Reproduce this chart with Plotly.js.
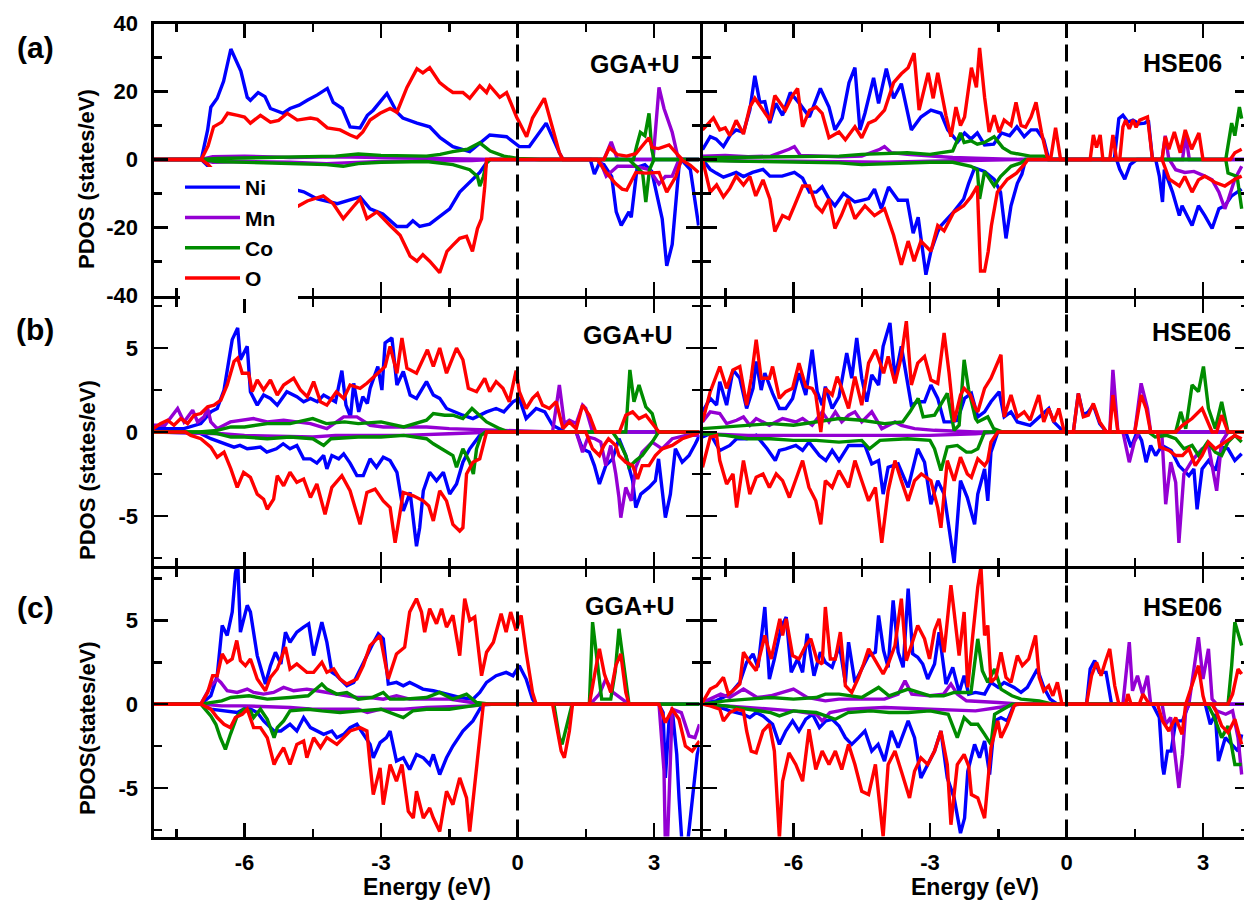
<!DOCTYPE html>
<html>
<head>
<meta charset="utf-8">
<script src="https://cdn.plot.ly/plotly-3.0.1.min.js"></script>
<style>
html,body{margin:0;padding:0;overflow:hidden;background:#fff;}
#plot{width:1260px;height:904px;}
</style>
</head>
<body>
<div id="plot"></div>
<script>
// ---------------- DATA (energy eV, PDOS states/eV) ----------------
const species = ['Ni', 'Mn', 'Co', 'O'];

// Panel (a) GGA+U
const aGGA_Ni_up = [[-8,0],[-6.95,0],[-6.81,8.7],[-6.74,15.4],[-6.6,18],[-6.46,23],[-6.3,32.5],[-6.15,28],[-6.08,26],[-5.94,18.3],[-5.87,17.4],[-5.7,19.7],[-5.55,18.5],[-5.43,15],[-5.15,13.6],[-5.0,15],[-4.8,16],[-4.62,17.4],[-4.4,19],[-4.18,20.9],[-4.05,16.8],[-3.85,15],[-3.68,9.6],[-3.46,9.3],[-3.3,13],[-3.17,14.5],[-2.87,19.4],[-2.65,13.9],[-2.52,12.2],[-2.21,10.7],[-1.93,9.6],[-1.7,6.4],[-1.42,3.8],[-1.05,2.3],[-0.61,7.2],[-0.24,6.7],[0.04,3.8],[0.26,3.8],[0.63,10.7],[0.92,2],[1.0,0],[4,0]];
const aGGA_Ni_dn = [[-8,0],[-6.95,0],[-6.8,-2],[-6.5,-5],[-6.0,-7.5],[-5.5,-8],[-4.93,-8.7],[-4.7,-9.5],[-4.4,-11.6],[-3.96,-13],[-3.7,-12],[-3.46,-11],[-3.24,-14.5],[-2.96,-16],[-2.65,-19.7],[-2.43,-19.7],[-2.3,-18],[-2.15,-19.7],[-1.93,-19],[-1.77,-17.4],[-1.49,-14.5],[-1.27,-9.6],[-1.05,-6.7],[-0.83,-3.8],[-0.68,-0.9],[-0.6,0],[1.6,0],[1.69,-4.3],[1.8,-1],[1.9,-1.5],[2.07,-5],[2.17,-15.4],[2.28,-19.4],[2.45,-15.4],[2.5,-17],[2.63,-2.3],[2.8,-1.5],[2.95,-3.5],[3.18,-17.4],[3.28,-31.3],[3.4,-25],[3.55,-2],[3.6,0],[3.8,-3],[3.98,-19.4]];
const aGGA_Mn_up = [[-8,0],[-6.95,0],[-6.7,0.8],[-6,1],[-5,0.6],[-4,0.8],[-3,0.6],[-2,0.4],[-1,0.2],[-0.5,0],[1.9,0],[2.06,5.2],[2.2,0],[2.98,0],[3.11,21.2],[3.22,15],[3.4,8],[3.52,1],[3.58,0],[4,0]];
const aGGA_Mn_dn = [[-8,0],[-6.95,0],[-6.7,-0.8],[-6,-0.6],[-5,-0.8],[-4.2,-1.2],[-3.8,-1.0],[-3,-0.6],[-2,-0.4],[-1,-0.3],[-0.6,0],[1.8,0],[1.95,-4.9],[2.2,-2],[2.6,-2],[2.9,-3],[3.11,-7.2],[3.25,-5],[3.4,-4.9],[3.55,0],[4,0]];
const aGGA_Co_up = [[-8,0],[-6.95,0],[-6.6,0.3],[-6,0.5],[-5,0.8],[-4,1],[-3.5,1.6],[-3,1.2],[-2,1],[-1.7,1.5],[-1.42,2.3],[-1.1,3],[-0.83,4.9],[-0.6,2.5],[-0.3,1],[0,0.3],[0.5,0],[2.55,0],[2.62,4],[2.7,8],[2.8,7],[2.89,13.6],[2.95,3],[3.0,0],[4,0]];
const aGGA_Co_dn = [[-8,0],[-6.95,0],[-6.6,-0.6],[-6,-0.8],[-5,-1.2],[-4.2,-1.5],[-3.83,-2],[-3.5,-1.2],[-3,-0.8],[-2,-0.6],[-1.42,-1.5],[-1.05,-3],[-0.88,-5],[-0.83,-7.8],[-0.75,-5],[-0.68,-1],[-0.6,0],[2.45,0],[2.6,-2],[2.75,-4],[2.82,-12.5],[2.9,-3],[3.0,0],[4,0]];
const aGGA_O_up = [[-8,0],[-6.95,0],[-6.8,4],[-6.68,9.6],[-6.5,11],[-6.37,13.6],[-6.15,13],[-6.0,12.5],[-5.87,10.7],[-5.65,13],[-5.43,11],[-5.25,11.5],[-5.06,13.6],[-4.84,11.6],[-4.55,12.2],[-4.4,11.8],[-4.18,9.3],[-3.9,8.7],[-3.68,7.2],[-3.53,6.4],[-3.4,8.1],[-3.24,11.6],[-3.02,13.6],[-2.8,15],[-2.65,13.9],[-2.43,21.2],[-2.21,26.7],[-2.08,25.5],[-1.93,27],[-1.71,22.6],[-1.55,20.9],[-1.42,19.7],[-1.2,19.7],[-1.05,18],[-0.83,21.7],[-0.68,19.7],[-0.61,21.7],[-0.39,18.3],[-0.24,19.7],[-0.02,12.5],[0.2,6.7],[0.33,12.2],[0.59,18],[0.77,9.6],[0.92,2],[1.0,0],[1.9,0],[2.02,3.5],[2.2,1.4],[2.4,1.0],[2.6,1.7],[2.89,6.4],[2.96,3.5],[3.1,3.2],[3.33,4.3],[3.5,1.7],[3.62,0]];
const aGGA_O_dn = [[-8,0],[-6.95,0],[-6.8,-1.5],[-6.5,-6],[-6,-10],[-5.5,-12],[-4.93,-14.5],[-4.62,-12.2],[-4.27,-10.7],[-4.05,-13],[-3.83,-17.4],[-3.61,-13.9],[-3.46,-11.6],[-3.31,-17.4],[-3.09,-15.4],[-2.8,-19.4],[-2.58,-22.3],[-2.36,-28.4],[-2.21,-29.9],[-2.08,-28],[-1.93,-29.9],[-1.71,-33.3],[-1.55,-27],[-1.42,-25.2],[-1.27,-23.2],[-1.12,-22.6],[-0.99,-27],[-0.88,-20.3],[-0.79,-17.4],[-0.72,-8],[-0.68,0],[1.75,0],[1.95,-3.8],[2.15,-7],[2.3,-8.7],[2.4,-9],[2.6,-3.8],[2.82,-4],[3.11,-3.8],[3.28,-9.6],[3.48,-5],[3.6,0],[3.8,-1.7],[3.98,-3.8]];

// Panel (a) HSE06
const aHSE_Ni_up = [[-8,2.9],[-7.83,6.7],[-7.7,6],[-7.54,3.8],[-7.39,7.2],[-7.26,8.7],[-7.1,8],[-6.96,14.5],[-6.85,24.6],[-6.74,16.8],[-6.63,17],[-6.52,10.7],[-6.39,16.5],[-6.24,13],[-6.07,19.7],[-5.87,16.5],[-5.65,12.5],[-5.41,20.9],[-5.22,15.4],[-5.09,8.7],[-4.93,12.2],[-4.78,22.6],[-4.65,27],[-4.54,8.7],[-4.43,13.6],[-4.24,24],[-4.13,16.5],[-3.96,26.7],[-3.8,18],[-3.63,22.3],[-3.41,8.7],[-3.2,12.5],[-2.98,14.5],[-2.76,13.6],[-2.61,8.7],[-2.39,5.2],[-2.24,7.8],[-2.1,6],[-1.96,7.8],[-1.8,4.3],[-1.6,4.5],[-1.43,7.8],[-1.25,7],[-1.09,9.6],[-0.93,6.7],[-0.78,8.7],[-0.65,8.7],[-0.5,5.8],[-0.39,0],[1.05,0],[1.15,12],[1.24,13],[1.35,11],[1.46,11.6],[1.6,10.5],[1.72,10.7],[1.8,11.5],[1.89,0],[4,0]];
const aHSE_Ni_dn = [[-8,0],[-7.83,-2.9],[-7.7,-4],[-7.54,-5.2],[-7.4,-4.5],[-7.26,-3.8],[-7.1,-5],[-6.9,-3.8],[-6.67,-2.9],[-6.52,-4.9],[-6.25,-4.9],[-5.98,-3.8],[-5.8,-5.5],[-5.65,-9.6],[-5.5,-9.6],[-5.37,-8],[-5.22,-11.6],[-5.09,-13.6],[-4.9,-10],[-4.65,-12.5],[-4.5,-12],[-4.35,-11.5],[-4.22,-8.7],[-4.07,-14.5],[-3.91,-8.1],[-3.7,-12],[-3.5,-12],[-3.37,-21.7],[-3.26,-17],[-3.15,-27],[-3.09,-33.9],[-2.98,-27],[-2.83,-21.2],[-2.76,-19.5],[-2.62,-17.4],[-2.48,-15.4],[-2.26,-11.6],[-2.15,-7],[-2.02,-2.5],[-1.8,-3.5],[-1.59,-5.8],[-1.45,-9.6],[-1.33,-23.2],[-1.22,-13.6],[-1.08,-7],[-0.98,-4.3],[-0.9,0],[1.1,0],[1.17,-2.9],[1.28,-5.8],[1.4,-1.5],[1.55,0],[1.96,0],[2.04,-4.9],[2.11,-12.5],[2.15,-3],[2.33,-9.6],[2.48,-16.5],[2.54,-13.6],[2.76,-19.4],[2.9,-13.6],[3.04,-16.5],[3.2,-20.3],[3.35,-14.5],[3.48,-13.6],[3.63,-10.7],[3.85,-8.7]];
const aHSE_Mn_up = [[-8,1],[-7.5,1.2],[-7,0.8],[-6.5,1],[-6.1,3],[-5.98,3.8],[-5.85,1.2],[-5.5,1],[-5,0.8],[-4.5,1],[-4.1,3],[-4.0,3.8],[-3.85,2],[-3.5,1.5],[-3,1],[-2.5,0.6],[-2,0.4],[-1.5,0.2],[-1,0],[2.1,0],[2.17,7],[2.25,0],[2.55,0],[2.62,7.2],[2.7,0],[4,0]];
const aHSE_Mn_dn = [[-8,0],[-7,-0.5],[-6,-0.5],[-5,-0.6],[-4,-0.8],[-3,-0.5],[-2,-0.3],[-1,0],[2.26,0],[2.4,-3],[2.6,-3.8],[2.8,-3.5],[3.04,-4.9],[3.2,-6],[3.35,-9.6],[3.48,-14.5],[3.55,-12],[3.7,-5.8],[3.85,-2]];
const aHSE_Co_up = [[-8,0.5],[-7,0.6],[-6,0.8],[-5,1],[-4.5,1.5],[-4,1.8],[-3.5,2],[-3,1.5],[-2.5,2.5],[-2.33,7.8],[-2.25,5],[-2.1,5.5],[-1.96,4.5],[-1.8,5],[-1.59,6.7],[-1.4,3.5],[-1.22,2],[-0.8,1],[-0.5,1],[-0.4,0],[3.5,0],[3.63,10.7],[3.7,7],[3.8,15.4],[3.85,12]];
const aHSE_Co_dn = [[-8,-0.3],[-7,-0.5],[-6,-0.6],[-5,-1],[-4.5,-1.5],[-4,-1.2],[-3.5,-1],[-3,-0.8],[-2.5,-0.8],[-2.1,-2],[-1.96,-3],[-1.91,-11.6],[-1.8,-3.5],[-1.59,-7.8],[-1.45,-5],[-1.22,-2],[-1.0,-1],[-0.9,0],[3.5,0],[3.55,-4],[3.75,-5],[3.85,-14.5]];
const aHSE_O_up = [[-8,8.7],[-7.76,12.2],[-7.62,8.7],[-7.5,9.3],[-7.4,7],[-7.26,11.5],[-7.1,7.5],[-6.96,15.4],[-6.85,18],[-6.71,15.4],[-6.62,13.6],[-6.52,11.6],[-6.41,18.8],[-6.28,16.5],[-6.18,14.5],[-6.02,18.8],[-5.91,20.9],[-5.8,9.6],[-5.65,14.5],[-5.5,15.4],[-5.37,13.6],[-5.22,6.4],[-5.0,8.1],[-4.86,5.8],[-4.65,9.6],[-4.5,6.4],[-4.35,10.7],[-4.2,11.6],[-4.0,14.5],[-3.8,22.6],[-3.63,25.2],[-3.48,27],[-3.35,31.3],[-3.24,14.5],[-3.04,25.5],[-2.93,18],[-2.83,25.5],[-2.65,13],[-2.54,6.7],[-2.43,15.4],[-2.33,10],[-2.24,12.5],[-2.09,27],[-1.98,21.2],[-1.91,32.8],[-1.8,18.3],[-1.7,8.1],[-1.59,13],[-1.48,8],[-1.37,11.6],[-1.22,10],[-1.11,16.8],[-1.0,10],[-0.9,9.5],[-0.78,12.5],[-0.67,16.8],[-0.55,8],[-0.43,1],[-0.35,0],[-0.24,9.3],[-0.13,0],[0.52,0],[0.59,7.2],[0.66,3.5],[0.74,7.2],[0.8,0],[0.95,0],[1.02,7.2],[1.1,0],[1.17,0],[1.24,9.6],[1.3,11.6],[1.38,9],[1.46,11.6],[1.53,9.5],[1.61,11.6],[1.78,12.5],[1.89,0],[2.1,0],[2.17,6.7],[2.25,3],[2.37,8.1],[2.5,2],[2.61,8.7],[2.75,3],[2.91,7.8],[3.0,0],[3.6,0],[3.7,2],[3.85,3]];
const aHSE_O_dn = [[-8,0],[-7.83,-9.6],[-7.69,-7.5],[-7.54,-11],[-7.4,-8.5],[-7.26,-4.9],[-7.1,-7.5],[-6.96,-5],[-6.83,-10.7],[-6.67,-6],[-6.52,-11.6],[-6.41,-21.2],[-6.24,-16.5],[-6.1,-17.4],[-5.98,-13.6],[-5.8,-7.8],[-5.65,-7.8],[-5.5,-13.6],[-5.37,-15.4],[-5.22,-11.6],[-5.09,-20.3],[-4.95,-16.5],[-4.8,-11.6],[-4.65,-17.4],[-4.43,-13.6],[-4.22,-16.5],[-4.0,-14.5],[-3.8,-22.3],[-3.63,-31],[-3.48,-24],[-3.35,-29.9],[-3.2,-24],[-2.98,-27],[-2.83,-19.4],[-2.69,-21],[-2.48,-15.5],[-2.26,-13.6],[-2.1,-11],[-1.96,-7.8],[-1.89,-32.8],[-1.8,-32.8],[-1.72,-27],[-1.65,-19.4],[-1.52,-9.6],[-1.3,-5.8],[-1.1,-4],[-0.9,-1],[-0.85,0],[2.1,0],[2.26,-5.8],[2.48,-7.8],[2.6,-5],[2.76,-9.6],[2.9,-6],[3.04,-4.9],[3.26,-6.7],[3.48,-7.8],[3.7,-5.8],[3.85,-4.9]];

// Panel (b) GGA+U
const bGGA_Ni_up = [[-8,0.2],[-7.33,0.2],[-6.96,0.5],[-6.74,1.2],[-6.6,1.4],[-6.45,2.5],[-6.27,5.5],[-6.15,6.2],[-6.09,4.3],[-5.94,5.1],[-5.87,2.4],[-5.72,1.6],[-5.58,2.2],[-5.43,2],[-5.28,1.6],[-5.07,2.4],[-4.85,2.1],[-4.7,1.8],[-4.55,2.0],[-4.4,1.8],[-4.26,2.2],[-4.0,1.8],[-3.86,3.65],[-3.77,1.6],[-3.67,0.9],[-3.6,2.9],[-3.49,1.2],[-3.4,2.1],[-3.3,1.7],[-3.24,2.6],[-3.07,3.9],[-2.98,2.5],[-2.91,5.3],[-2.76,5.6],[-2.65,2.8],[-2.51,3.6],[-2.36,2.2],[-2.22,2],[-2.0,3.0],[-1.85,2.2],[-1.71,2.0],[-1.56,1.4],[-1.2,1.0],[-0.98,0.8],[-0.68,1.2],[-0.47,1.4],[-0.3,1.2],[-0.1,1.8],[0.04,2.0],[0.19,0.8],[0.41,1.4],[0.6,1.2],[0.77,0.4],[0.92,0.2],[1.05,0],[4,0]];
const bGGA_Ni_dn = [[-8,0],[-7,-0.05],[-6.74,-0.4],[-6.52,-0.6],[-6.23,-0.9],[-6.1,-0.8],[-5.94,-1.0],[-5.65,-0.9],[-5.51,-1.2],[-5.3,-1.0],[-5.15,-0.7],[-5.0,-1.0],[-4.85,-0.8],[-4.7,-1.6],[-4.55,-1.6],[-4.41,-1.85],[-4.26,-1.4],[-4.19,-2.2],[-4.08,-1.4],[-3.93,-1.6],[-3.82,-1.3],[-3.68,-1.85],[-3.53,-2.6],[-3.39,-2.6],[-3.24,-1.6],[-3.1,-2.1],[-2.95,-1.5],[-2.8,-1.7],[-2.65,-2.4],[-2.51,-4.7],[-2.36,-3.6],[-2.22,-6.8],[-2.15,-5.7],[-2.07,-3.5],[-1.93,-2.4],[-1.78,-2.9],[-1.63,-2.4],[-1.49,-3.7],[-1.34,-3.1],[-1.2,-1.8],[-1.05,-1.0],[-0.83,-0.2],[-0.7,0],[1.29,0],[1.43,-1.0],[1.58,-1.2],[1.69,-2.0],[1.8,-3.1],[1.94,-2.0],[2.09,-1.6],[2.23,-0.4],[2.38,-1.4],[2.53,-2.9],[2.6,-4.5],[2.71,-3.7],[2.89,-3.3],[3.03,-2.9],[3.1,-1.6],[3.25,-5.1],[3.36,-3.7],[3.47,-1.0],[3.62,-1.8],[3.77,-1.4],[3.91,-0.7],[4,-0.2]];
const bGGA_Mn_up = [[-8,0.4],[-7.75,0.4],[-7.47,1.4],[-7.33,0.6],[-7.14,1.3],[-7.03,0.6],[-6.89,0.9],[-6.81,1.4],[-6.74,0.6],[-6.6,0.2],[-6.31,0.6],[-6.1,0.7],[-5.8,0.8],[-5.5,0.6],[-5.14,0.7],[-4.85,0.6],[-4.55,0.5],[-4.19,0.2],[-3.82,0.9],[-3.53,0.9],[-3.24,0.4],[-2.95,0.3],[-2.51,0.3],[-2.0,0.3],[-1.5,0.2],[-0.5,0.1],[0.3,0],[0.77,0],[0.92,2.8],[1.03,0.5],[1.14,0.7],[1.29,0.5],[1.43,1.6],[1.5,1.4],[1.65,0],[4,0]];
const bGGA_Mn_dn = [[-8,0],[-7,-0.05],[-6.5,-0.1],[-6,-0.2],[-5,-0.3],[-4.5,-0.3],[-4,-0.2],[-3.5,-0.2],[-2.5,-0.2],[-1.5,-0.1],[-0.5,0],[1.29,0],[1.43,-1.2],[1.55,-0.3],[1.7,-0.4],[1.83,-0.6],[1.94,-2.0],[2.05,-0.8],[2.16,-2.5],[2.23,-3.9],[2.27,-5.1],[2.38,-3.3],[2.5,-4.1],[2.6,-2.1],[2.74,-1.2],[2.96,-0.6],[3.18,-1.0],[3.4,-0.4],[3.7,-0.2],[4,-0.2]];
const bGGA_Co_up = [[-8,0],[-7,0],[-6.6,0.1],[-6.3,0.3],[-6,0.3],[-5.5,0.5],[-5,0.5],[-4.5,0.8],[-4.2,0.5],[-3.8,0.6],[-3.5,0.5],[-3.0,0.6],[-2.5,0.3],[-2.15,0.6],[-2.0,0.7],[-1.85,1.1],[-1.6,1.0],[-1.42,1.0],[-1.2,0.8],[-1.0,1.4],[-0.83,1.0],[-0.68,0.6],[-0.39,0.2],[-0.2,0],[2.38,0],[2.47,3.7],[2.56,1.8],[2.67,2.8],[2.82,1.5],[2.96,1.1],[3.07,0],[4,0]];
const bGGA_Co_dn = [[-8,0],[-7,0],[-6.6,-0.1],[-6.3,-0.3],[-6,-0.3],[-5.5,-0.4],[-5,-0.3],[-4.5,-0.4],[-4.26,-0.8],[-4.1,-0.4],[-3.5,-0.3],[-3.0,-0.3],[-2.5,-0.2],[-2.0,-0.4],[-1.85,-0.7],[-1.56,-1.2],[-1.42,-1.4],[-1.34,-2.1],[-1.2,-1.0],[-1.05,-1.8],[-0.97,-2.5],[-0.9,-1.0],[-0.8,-0.2],[-0.7,0],[2.09,0],[2.24,-0.6],[2.38,-1.4],[2.45,-2.1],[2.6,-1.7],[2.74,-1.4],[2.96,-0.6],[3.1,0],[4,0]];
const bGGA_O_up = [[-8,0.2],[-7.85,0.5],[-7.69,0.7],[-7.55,0.4],[-7.4,0.8],[-7.25,0.5],[-7.11,1.0],[-6.96,1.1],[-6.81,1.5],[-6.67,1.6],[-6.52,1.9],[-6.38,2.8],[-6.23,4.2],[-6.15,4.4],[-6.05,3.5],[-5.91,3.5],[-5.83,2.4],[-5.72,3.1],[-5.58,2.5],[-5.43,3.1],[-5.28,2.2],[-5.14,2.8],[-4.92,3.2],[-4.77,2.5],[-4.62,2.1],[-4.48,3.0],[-4.33,1.8],[-4.19,1.6],[-3.98,2.4],[-3.82,2.0],[-3.68,2.8],[-3.46,2.6],[-3.31,2.9],[-3.1,3.4],[-2.91,3.9],[-2.8,5.1],[-2.65,3.5],[-2.54,5.6],[-2.43,3.8],[-2.22,3.5],[-2.04,4.5],[-1.98,4.9],[-1.85,3.9],[-1.71,5.0],[-1.56,3.5],[-1.34,5.0],[-1.2,4.3],[-1.08,2.6],[-0.9,2.4],[-0.72,3.2],[-0.61,2.4],[-0.47,3.0],[-0.32,2.6],[-0.18,1.8],[-0.03,3.65],[0.04,2.4],[0.19,1.4],[0.33,2.0],[0.44,2.3],[0.55,1.6],[0.7,1.4],[0.85,1.8],[1.0,0.2],[1.14,0.6],[1.29,0.2],[1.43,1.6],[1.58,1.0],[1.72,0],[2.24,0],[2.38,1.0],[2.53,1.2],[2.67,0.8],[2.82,1.0],[2.96,0.5],[3.11,0],[4,0]];
const bGGA_O_dn = [[-8,0],[-7.3,0],[-7.18,-0.2],[-6.96,-0.4],[-6.74,-0.9],[-6.6,-1.5],[-6.45,-1.2],[-6.3,-2.2],[-6.16,-3.3],[-6.02,-2.4],[-5.87,-2.7],[-5.72,-3.7],[-5.58,-4.0],[-5.5,-4.6],[-5.36,-4.0],[-5.28,-2.6],[-5.14,-3.2],[-5.0,-2.4],[-4.85,-3.0],[-4.7,-2.8],[-4.55,-3.9],[-4.41,-3.1],[-4.23,-4.9],[-4.08,-3.3],[-3.86,-2.6],[-3.68,-3.5],[-3.46,-5.5],[-3.31,-3.6],[-3.13,-3.4],[-2.95,-4.1],[-2.8,-4.5],[-2.69,-6.6],[-2.51,-3.6],[-2.29,-3.8],[-2.07,-4.1],[-1.95,-4.4],[-1.85,-5.3],[-1.71,-3.5],[-1.56,-4.1],[-1.42,-5.5],[-1.27,-5.9],[-1.2,-5.7],[-1.12,-2.5],[-0.98,-1.8],[-0.83,-1.6],[-0.68,0],[1.5,0],[1.65,-1.0],[1.8,-1.4],[1.9,-0.8],[2.0,-0.4],[2.16,-0.8],[2.23,-1.4],[2.38,-1.8],[2.53,-2.0],[2.64,-2.8],[2.74,-2.0],[2.89,-2.0],[3.03,-1.4],[3.18,-1.0],[3.4,-0.8],[3.62,-0.4],[3.84,-0.2],[4,0]];

// Panel (b) HSE06
const bHSE_Ni_up = [[-8,1.2],[-7.83,2.0],[-7.69,1.6],[-7.62,3.0],[-7.47,1.6],[-7.33,3.7],[-7.18,3.2],[-7.03,1.4],[-6.89,2.6],[-6.82,4.2],[-6.71,2.5],[-6.63,3.5],[-6.46,2.3],[-6.31,1.4],[-6.17,1.4],[-6.02,2.0],[-5.88,3.5],[-5.73,2.2],[-5.59,4.9],[-5.48,2.4],[-5.37,1.6],[-5.3,2.7],[-5.15,1.4],[-5.0,2.1],[-4.83,4.7],[-4.72,3.2],[-4.61,5.6],[-4.5,3.2],[-4.39,1.8],[-4.28,3.4],[-4.13,2.8],[-4.03,5.1],[-3.88,6.5],[-3.77,3.2],[-3.63,5.1],[-3.52,3.2],[-3.41,1.6],[-3.27,1.8],[-3.12,1.8],[-2.98,2.8],[-2.83,2.0],[-2.69,0.6],[-2.54,0.6],[-2.4,0.7],[-2.24,2.0],[-2.09,2.3],[-1.95,0.9],[-1.8,1.2],[-1.66,1.8],[-1.48,2.4],[-1.37,0.9],[-1.22,1.2],[-1.08,0.6],[-0.8,0.4],[-0.39,1.4],[-0.28,0.6],[-0.13,0.2],[0,0],[0.15,0],[0.26,2.3],[0.37,1.0],[0.48,1.2],[0.59,1.6],[0.73,0.5],[0.88,0],[4,0]];
const bHSE_Ni_dn = [[-8,-0.3],[-7.83,-0.1],[-7.62,-1.1],[-7.4,-0.8],[-7.25,-0.4],[-7.03,-0.4],[-6.82,-0.2],[-6.58,-1.0],[-6.4,-1.7],[-6.31,-1.1],[-6.17,-1.0],[-5.95,-0.8],[-5.8,-1.1],[-5.66,-0.6],[-5.43,-1.4],[-5.29,-1.7],[-5.15,-1.1],[-5.0,-1.7],[-4.79,-0.8],[-4.65,-0.8],[-4.43,-0.8],[-4.28,-1.9],[-4.13,-1.7],[-4.03,-3.7],[-3.92,-2.1],[-3.7,-1.9],[-3.48,-3.3],[-3.27,-1.0],[-3.12,-1.8],[-2.98,-4.3],[-2.83,-2.9],[-2.69,-3.7],[-2.47,-7.8],[-2.33,-2.9],[-2.18,-3.9],[-2.02,-5.5],[-1.95,-3.7],[-1.8,-2.2],[-1.73,-4.1],[-1.66,-1.2],[-1.51,0],[1.3,0],[1.42,-0.9],[1.55,0],[1.65,-0.5],[1.75,-1.8],[1.85,-0.8],[1.96,-1.4],[2.1,-0.8],[2.3,-1.1],[2.47,-2.0],[2.69,-2.6],[2.8,-2.2],[2.87,-4.6],[2.98,-2.2],[3.12,-1.7],[3.27,-2.3],[3.41,-0.9],[3.55,-1.0],[3.7,-1.7],[3.85,-1.3]];
const bHSE_Mn_up = [[-8,0.6],[-7.83,1.2],[-7.62,1.1],[-7.47,0.5],[-7.25,0.7],[-7.1,0.9],[-6.96,0.4],[-6.82,0.8],[-6.53,0.4],[-6.24,0.8],[-5.95,0.6],[-5.8,0.8],[-5.59,0.4],[-5.37,1.2],[-5.22,0.6],[-5.08,1.2],[-4.94,0.6],[-4.79,1.0],[-4.65,1.2],[-4.5,0.6],[-4.28,1.2],[-4.06,0.2],[-3.77,0.6],[-3.63,0.4],[-3.34,0.2],[-2.9,0.1],[-2,0],[0.95,0],[1.02,3.7],[1.13,0],[1.5,0],[1.64,2.9],[1.78,1.4],[1.85,0],[4,0]];
const bHSE_Mn_dn = [[-8,-0.1],[-7,-0.2],[-6,-0.2],[-5,-0.2],[-4,-0.2],[-3,-0.2],[-2,-0.1],[-1.5,0],[1.24,0],[1.38,-1.8],[1.49,-0.6],[1.6,0],[2.05,0],[2.1,-0.3],[2.18,-4.3],[2.29,-1.8],[2.4,-3.0],[2.47,-6.6],[2.58,-2.5],[2.76,-1.7],[2.98,-1.0],[3.12,-0.8],[3.3,-3.5],[3.41,-0.6],[3.55,0],[4,0]];
const bHSE_Co_up = [[-8,0.2],[-7.5,0.3],[-7,0.4],[-6.5,0.5],[-6,0.4],[-5.5,0.6],[-5,0.8],[-4.5,0.7],[-4,0.5],[-3.6,0.6],[-3.44,1.2],[-3.26,2.0],[-3.15,0.9],[-2.9,1.0],[-2.62,2.3],[-2.47,0.1],[-2.36,0.4],[-2.25,4.3],[-2.15,2.5],[-2.0,0.8],[-1.95,0.6],[-1.73,0.9],[-1.6,0.2],[-1.4,0],[2.4,0],[2.51,1.2],[2.62,0.2],[2.76,2.8],[2.9,2.4],[3.01,3.9],[3.12,1.4],[3.27,0.2],[3.41,1.8],[3.55,0],[4,0]];
const bHSE_Co_dn = [[-8,-0.1],[-7.5,-0.2],[-7,-0.4],[-6.5,-0.4],[-6,-0.5],[-5.5,-0.5],[-5,-0.6],[-4.5,-0.5],[-4.33,-1.0],[-4.1,-0.5],[-3.5,-0.4],[-3.0,-0.5],[-2.9,-1.0],[-2.76,-2.3],[-2.62,-0.9],[-2.4,-0.8],[-2.2,-1.2],[-2.09,-1.2],[-1.95,-1.0],[-1.8,0],[1.8,0],[1.95,-0.3],[2.2,-0.2],[2.4,-0.4],[2.58,-1.0],[2.76,-0.8],[2.9,-1.4],[3.1,-0.6],[3.27,-1.2],[3.41,-1.4],[3.55,-0.6],[3.7,-0.2],[3.85,-0.6]];
const bHSE_O_up = [[-8,0.6],[-7.83,2.4],[-7.62,3.9],[-7.47,2.6],[-7.33,3.7],[-7.18,3.9],[-7.03,1.6],[-6.93,3.2],[-6.82,5.5],[-6.71,3.2],[-6.53,3.2],[-6.46,3.9],[-6.31,2.0],[-6.17,2.4],[-6.02,2.6],[-5.88,4.1],[-5.73,2.7],[-5.59,2.6],[-5.51,2.2],[-5.4,0],[-5.3,2.6],[-5.15,2.2],[-5.04,3.3],[-4.94,2.6],[-4.79,1.4],[-4.65,3.3],[-4.5,1.6],[-4.35,4.1],[-4.2,4.9],[-4.02,3.5],[-3.92,4.5],[-3.77,2.9],[-3.63,4.5],[-3.52,6.6],[-3.41,2.8],[-3.27,4.1],[-3.12,4.5],[-2.98,3.1],[-2.83,2.9],[-2.69,5.9],[-2.58,3.5],[-2.47,0.6],[-2.33,2.2],[-2.25,2.6],[-2.11,2.2],[-2.0,1.4],[-1.95,1.2],[-1.8,2.6],[-1.66,3.2],[-1.51,4.1],[-1.44,4.6],[-1.37,0.9],[-1.22,2.2],[-1.08,0.9],[-0.93,1.2],[-0.8,0.7],[-0.61,2.2],[-0.5,0.6],[-0.39,1.4],[-0.28,0.6],[-0.17,1.4],[-0.05,0],[0.15,0],[0.26,2.3],[0.37,0.9],[0.48,1.0],[0.59,1.7],[0.73,0.6],[0.88,0],[0.95,0],[1.02,2.2],[1.13,0],[1.5,0],[1.64,2.2],[1.75,1.4],[1.85,0],[2.4,0],[2.55,0.4],[2.76,0.8],[2.98,1.4],[3.2,0],[3.3,0],[3.41,1.0],[3.55,0],[4,0]];
const bHSE_O_dn = [[-8,-2.1],[-7.83,-0.3],[-7.69,-0.2],[-7.62,-1.7],[-7.47,-3.1],[-7.33,-2.5],[-7.25,-4.5],[-7.1,-1.7],[-6.96,-3.7],[-6.82,-2.7],[-6.67,-2.5],[-6.53,-3.3],[-6.38,-2.5],[-6.24,-2.9],[-6.09,-3.9],[-5.95,-2.9],[-5.8,-1.7],[-5.66,-3.3],[-5.51,-4.1],[-5.4,-5.5],[-5.3,-2.9],[-5.15,-3.3],[-5.0,-2.3],[-4.79,-3.3],[-4.65,-1.7],[-4.5,-2.9],[-4.35,-4.1],[-4.2,-3.3],[-4.06,-6.6],[-3.92,-3.5],[-3.77,-1.7],[-3.63,-2.9],[-3.48,-4.1],[-3.34,-2.9],[-3.19,-2.5],[-2.98,-2.9],[-2.83,-4.5],[-2.76,-5.7],[-2.62,-1.7],[-2.47,-2.9],[-2.33,-1.5],[-2.18,-2.5],[-2.09,-2.7],[-1.95,-1.6],[-1.8,-2.0],[-1.73,-1.7],[-1.66,-0.6],[-1.51,0],[2.0,0],[2.05,-0.9],[2.25,-1.1],[2.4,-1.4],[2.55,-1.4],[2.69,-1.0],[2.83,-2.0],[2.98,-1.4],[3.12,-0.6],[3.27,-1.0],[3.48,-0.6],[3.7,-0.2],[3.85,-0.4]];

// Panel (c) GGA+U
const cGGA_Ni_up = [[-8,0],[-6.96,0],[-6.74,0.5],[-6.6,1.7],[-6.49,4.7],[-6.38,4.1],[-6.27,5.5],[-6.2,7.8],[-6.15,8.5],[-6.09,4.3],[-5.94,5.9],[-5.87,5.5],[-5.72,2.9],[-5.54,1.2],[-5.43,2.3],[-5.32,3.1],[-5.2,2.4],[-5.1,4.3],[-5.0,3.7],[-4.85,4.3],[-4.7,4.6],[-4.59,4.8],[-4.48,2.9],[-4.3,4.9],[-4.19,3.7],[-4.08,1.9],[-3.97,1.7],[-3.86,1.4],[-3.75,1.1],[-3.6,1.3],[-3.39,2.5],[-3.2,3.5],[-3.06,4.2],[-2.95,3.9],[-2.84,1.2],[-2.66,1.3],[-2.51,1.1],[-2.37,1.3],[-2.22,1.1],[-2.08,0.9],[-1.85,0.8],[-1.56,0.6],[-1.27,0.4],[-0.98,0.3],[-0.83,0.7],[-0.68,1.3],[-0.47,1.7],[-0.25,1.9],[-0.1,1.7],[0.04,2.3],[0.19,1.5],[0.33,0.3],[0.41,0],[4,0]];
const cGGA_Ni_dn = [[-8,0],[-6.96,0],[-6.74,-0.3],[-6.45,-0.4],[-6.16,-0.5],[-5.94,-0.2],[-5.72,-0.5],[-5.58,-1.0],[-5.35,-1.6],[-5.2,-1.6],[-5.0,-1.2],[-4.85,-1.6],[-4.7,-0.8],[-4.55,-1.4],[-4.41,-1.6],[-4.26,-1.8],[-4.08,-1.6],[-3.97,-2.0],[-3.82,-1.8],[-3.68,-1.4],[-3.53,-1.2],[-3.39,-1.8],[-3.24,-2.4],[-3.17,-3.2],[-3.02,-2.3],[-2.88,-2.0],[-2.8,-1.6],[-2.66,-3.4],[-2.51,-3.2],[-2.37,-3.9],[-2.22,-3.0],[-2.07,-3.2],[-1.93,-3.6],[-1.85,-3.0],[-1.71,-4.2],[-1.56,-3.2],[-1.42,-2.5],[-1.2,-1.6],[-0.98,-1.0],[-0.83,-0.3],[-0.75,0],[3.1,0],[3.2,-0.5],[3.25,-4.4],[3.33,-1],[3.4,-0.3],[3.5,-3],[3.55,-5.6],[3.62,-8.5],[3.73,-8.5],[3.84,-5.6],[3.95,-3],[4,-2.5]];
const cGGA_Mn_up = [[-8,0],[-6.96,0],[-6.74,1.1],[-6.6,1.5],[-6.52,1.3],[-6.38,0.8],[-6.16,0.7],[-5.94,0.9],[-5.8,0.7],[-5.58,0.6],[-5.36,0.7],[-5.14,1.0],[-4.92,0.8],[-4.63,0.9],[-4.41,0.8],[-4.19,0.7],[-3.9,0.6],[-3.53,0.4],[-3.24,0.4],[-2.95,0.3],[-2.66,0.5],[-2.37,0.3],[-1.93,0.3],[-1.5,0.3],[-1,0.1],[-0.7,0],[1.6,0],[1.8,0.6],[1.94,1.5],[2.1,0.7],[2.3,0.3],[2.45,0],[4,0]];
const cGGA_Mn_dn = [[-8,0],[-6.96,0],[-6.5,-0.1],[-6,-0.1],[-5,-0.2],[-4.5,-0.3],[-4,-0.3],[-3.5,-0.3],[-3.3,-0.5],[-3.0,-0.3],[-2.5,-0.3],[-2,-0.2],[-1,-0.1],[-0.5,0],[3.11,0],[3.22,-4],[3.25,-8.5],[3.3,-8],[3.4,-0.3],[3.6,-0.5],[3.77,-1.9],[3.9,-2],[4,-1.2]];
const cGGA_Co_up = [[-8,0],[-6.96,0],[-6.5,0.2],[-6.3,0.4],[-5.9,0.5],[-5.5,0.3],[-5.0,0.4],[-4.6,0.5],[-4.3,1.2],[-4.19,0.9],[-3.97,0.6],[-3.75,0.7],[-3.5,0.3],[-3.2,0.4],[-2.95,0.7],[-2.8,0.3],[-2.5,0.3],[-2.0,0.4],[-1.71,0.7],[-1.42,0.3],[-1.12,0.6],[-0.9,0.1],[-0.6,0],[1.58,0],[1.65,4.9],[1.76,2.5],[1.85,0.3],[2.05,0.3],[2.15,2],[2.23,4.5],[2.34,2.3],[2.45,0],[4,0]];
const cGGA_Co_dn = [[-8,0],[-6.96,0],[-6.74,-0.7],[-6.63,-1.2],[-6.53,-2.0],[-6.42,-2.7],[-6.31,-1.8],[-6.16,-0.7],[-6.02,-0.3],[-5.87,-0.4],[-5.8,-0.8],[-5.65,-0.3],[-5.5,-0.9],[-5.35,-2.0],[-5.28,-1.4],[-5.14,-1.0],[-5.0,-0.4],[-4.6,-0.3],[-4.3,-0.4],[-3.9,-0.5],[-3.5,-0.4],[-3.0,-0.3],[-2.51,-0.8],[-2.3,-0.4],[-2.0,-0.3],[-1.5,-0.3],[-1.0,-0.1],[-0.7,0],[0.8,0],[0.92,-2.0],[0.98,-2.4],[1.1,-1],[1.2,0],[4,0]];
const cGGA_O_up = [[-8,0],[-6.96,0],[-6.81,0.7],[-6.7,1.7],[-6.6,1.7],[-6.49,3.0],[-6.38,2.5],[-6.27,2.7],[-6.17,3.8],[-6.09,2.6],[-5.98,2.3],[-5.87,2.7],[-5.72,1.5],[-5.54,0.8],[-5.43,1.6],[-5.28,2.1],[-5.1,3.4],[-5.0,2.1],[-4.85,2.4],[-4.63,1.9],[-4.48,1.9],[-4.3,2.5],[-4.19,1.9],[-4.04,2.1],[-3.9,1.5],[-3.75,1.2],[-3.53,1.5],[-3.39,2.3],[-3.24,3.5],[-3.02,4.1],[-2.84,1.5],[-2.66,3.0],[-2.48,3.4],[-2.37,5.5],[-2.22,6.3],[-2.11,5.5],[-2.04,4.3],[-1.93,5.7],[-1.78,4.8],[-1.67,5.7],[-1.56,4.6],[-1.42,5.3],[-1.27,2.9],[-1.16,6.3],[-1.05,5.0],[-0.94,5.2],[-0.79,1.7],[-0.68,3.1],[-0.53,3.7],[-0.36,5.4],[-0.25,4.3],[-0.15,5.5],[-0.03,4.4],[0.08,5.3],[0.19,3.1],[0.33,0.7],[0.41,0],[1.58,0],[1.69,1.7],[1.8,3.3],[1.91,1.8],[2.05,0.7],[2.16,2.3],[2.27,3.0],[2.38,0.7],[2.45,0],[3.1,0]];
const cGGA_O_dn = [[-8,0],[-6.96,0],[-6.74,-0.3],[-6.6,-0.8],[-6.45,-1.2],[-6.31,-1.4],[-6.2,-0.8],[-6.05,-0.6],[-5.94,-0.3],[-5.8,-1.4],[-5.65,-1.4],[-5.5,-2.0],[-5.35,-3.6],[-5.28,-3.2],[-5.14,-2.6],[-5.0,-3.6],[-4.85,-2.4],[-4.7,-2.2],[-4.63,-3.2],[-4.48,-2.0],[-4.33,-2.6],[-4.19,-2.0],[-3.97,-2.4],[-3.82,-2.0],[-3.68,-1.6],[-3.46,-1.4],[-3.31,-1.6],[-3.24,-3.6],[-3.17,-5.4],[-3.02,-3.8],[-2.95,-6.0],[-2.8,-3.6],[-2.66,-4.6],[-2.54,-3.6],[-2.4,-6.4],[-2.29,-6.8],[-2.22,-5.2],[-2.07,-6.8],[-1.93,-6.2],[-1.85,-6.8],[-1.71,-7.6],[-1.56,-5.2],[-1.42,-6.0],[-1.27,-4.4],[-1.12,-5.6],[-1.05,-7.6],[-0.9,-3.6],[-0.75,0],[0.77,0],[0.85,-1.3],[0.96,-2.8],[1.03,-3.2],[1.14,-1.6],[1.21,0],[3.11,0],[3.25,-1.1],[3.4,-0.3],[3.55,-0.9],[3.69,-2.5],[3.84,-2.8],[4,-2.2]];

// Panel (c) HSE06
const cHSE_Ni_up = [[-8,0.1],[-7.7,0.2],[-7.4,0.6],[-7.18,1.3],[-7.03,2.5],[-6.89,3.0],[-6.78,2.2],[-6.63,5.8],[-6.53,1.5],[-6.42,2.7],[-6.27,4.6],[-6.16,5.2],[-6.05,1.9],[-5.91,2.7],[-5.8,1.9],[-5.7,4.2],[-5.55,1.7],[-5.41,3.1],[-5.3,2.5],[-5.15,2.2],[-4.99,3.5],[-4.86,1.3],[-4.79,3.7],[-4.65,1.3],[-4.5,2.1],[-4.35,2.9],[-4.2,3.1],[-4.13,5.3],[-4.02,3.2],[-3.92,2.2],[-3.81,6.2],[-3.7,3.1],[-3.59,2.2],[-3.48,6.9],[-3.38,3.0],[-3.27,2.8],[-3.16,2.4],[-3.05,1.5],[-2.9,2.4],[-2.8,4.3],[-2.65,1.2],[-2.5,2.2],[-2.36,0.7],[-2.25,1.7],[-2.15,0.6],[-2.0,0.7],[-1.8,0.6],[-1.66,1.3],[-1.5,1.0],[-1.37,1.3],[-1.15,1.0],[-1.0,0.7],[-0.86,1.0],[-0.72,1.7],[-0.64,2.1],[-0.5,1.0],[-0.36,0.3],[-0.2,0],[0.44,0],[0.52,2.1],[0.62,2.6],[0.72,1.9],[0.87,1.9],[0.99,0],[4,0]];
const cHSE_Ni_dn = [[-8,0],[-7.7,-0.1],[-7.4,-0.4],[-7.1,-0.6],[-6.96,-0.8],[-6.82,-0.5],[-6.67,-0.7],[-6.46,-1.2],[-6.31,-2.4],[-6.17,-1.6],[-6.02,-1.0],[-5.88,-1.6],[-5.73,-0.9],[-5.58,-0.6],[-5.43,-1.4],[-5.29,-1.0],[-5.15,-0.9],[-5.0,-1.3],[-4.86,-2.0],[-4.72,-2.4],[-4.57,-2.0],[-4.43,-1.6],[-4.28,-2.8],[-4.14,-2.4],[-4.0,-3.4],[-3.85,-1.6],[-3.7,-2.6],[-3.48,-1.0],[-3.34,-2.0],[-3.2,-4.4],[-3.05,-3.6],[-2.9,-2.8],[-2.76,-1.6],[-2.62,-4.4],[-2.47,-5.6],[-2.33,-7.7],[-2.24,-6.8],[-2.17,-4.0],[-2.02,-2.4],[-1.91,-3.2],[-1.8,-2.2],[-1.69,-4.2],[-1.58,-1.0],[-1.44,-0.8],[-1.3,-1.0],[-1.15,0],[1.89,0],[2.04,-0.8],[2.11,-3.7],[2.14,-4.2],[2.22,-2.8],[2.3,-2.8],[2.4,-1.0],[2.55,-1.0],[2.69,0],[3.05,0],[3.16,-1.2],[3.27,-0.6],[3.34,-3.4],[3.49,-2.0],[3.63,-2.4],[3.77,-2.8],[3.85,-1.8]];
const cHSE_Mn_up = [[-8,0.1],[-7.6,0.6],[-7.4,0.4],[-7.1,0.9],[-6.8,0.4],[-6.5,0.5],[-6.0,0.9],[-5.7,0.4],[-5.3,0.2],[-5.0,0.3],[-4.5,0.3],[-4.0,0.3],[-3.7,0.6],[-3.55,1.4],[-3.4,0.6],[-3.0,0.5],[-2.7,0.6],[-2.54,1.2],[-2.4,0.6],[-2.2,0.2],[-1.5,0.1],[-1.0,0],[1.24,0],[1.38,3.7],[1.45,0.8],[1.56,1.7],[1.67,0.6],[1.78,1.7],[1.85,0],[2.69,0],[2.9,4.0],[3.0,1.5],[3.12,3.3],[3.2,0.3],[3.3,0],[4,0]];
const cHSE_Mn_dn = [[-8,0],[-7,-0.2],[-6.5,-0.3],[-6.0,-0.4],[-5.5,-0.6],[-5.37,-1.0],[-5.2,-0.5],[-4.8,-0.3],[-4.0,-0.2],[-3.0,-0.3],[-2.5,-0.4],[-2.0,-0.4],[-1.5,-0.2],[-1.0,0],[2.1,0],[2.18,-1.2],[2.29,-0.8],[2.4,-3.2],[2.47,-5.0],[2.55,-3],[2.62,-0.4],[2.7,0],[3.2,0],[3.3,-0.4],[3.5,-0.6],[3.65,-0.4],[3.77,-2.0],[3.85,-4.2]];
const cHSE_Co_up = [[-8,0],[-7.5,0.2],[-7,0.3],[-6.5,0.4],[-6,0.3],[-5.5,0.4],[-5.3,0.6],[-5.0,0.6],[-4.5,0.4],[-4.13,1.0],[-3.9,0.5],[-3.48,0.9],[-3.0,0.5],[-2.7,0.5],[-2.47,0.7],[-2.25,0.7],[-2.1,0.7],[-1.95,3.9],[-1.85,2.0],[-1.73,1.3],[-1.58,2.1],[-1.44,0.9],[-1.2,0.5],[-1.0,0.3],[-0.6,0.2],[-0.3,0],[3.55,0],[3.63,2.3],[3.7,4.9],[3.85,3.5]];
const cHSE_Co_dn = [[-8,0],[-7.5,-0.1],[-7,-0.3],[-6.5,-0.5],[-6.31,-0.7],[-6,-0.4],[-5.5,-0.5],[-5.08,-0.9],[-4.8,-0.5],[-4.3,-0.4],[-3.9,-0.5],[-3.48,-0.5],[-3.0,-0.4],[-2.6,-0.6],[-2.4,-2.0],[-2.25,-0.8],[-2.1,-1.2],[-1.95,-1.2],[-1.8,-1.8],[-1.66,-2.4],[-1.58,-0.6],[-1.44,-0.4],[-1.3,-0.2],[-1.2,0],[3.1,0],[3.25,-0.8],[3.41,-2.0],[3.55,-1.3],[3.7,-3.6],[3.85,-3.6]];
const cHSE_O_up = [[-8,0.1],[-7.83,0.9],[-7.69,1.1],[-7.54,1.6],[-7.43,0.6],[-7.33,0.8],[-7.18,1.2],[-7.1,3.1],[-6.96,2.5],[-6.82,2.0],[-6.63,4.1],[-6.49,2.7],[-6.3,5.1],[-6.24,4.1],[-6.16,5.1],[-6.02,2.9],[-5.88,2.7],[-5.73,3.5],[-5.62,3.9],[-5.48,2.6],[-5.37,2.4],[-5.3,5.8],[-5.19,2.7],[-5.08,2.7],[-4.97,4.3],[-4.86,1.1],[-4.72,0.7],[-4.57,1.6],[-4.46,2.4],[-4.35,3.3],[-4.2,2.6],[-4.03,1.8],[-3.92,2.4],[-3.77,3.5],[-3.63,6.3],[-3.52,2.6],[-3.41,3.5],[-3.27,4.7],[-3.12,3.9],[-3.01,2.7],[-2.9,4.4],[-2.8,5.1],[-2.69,3.1],[-2.54,7.1],[-2.47,5.5],[-2.36,2.9],[-2.25,5.5],[-2.17,1.0],[-2.06,4.1],[-1.95,7.0],[-1.88,8.2],[-1.8,4.1],[-1.73,4.7],[-1.66,1.3],[-1.55,1.6],[-1.44,3.1],[-1.33,1.6],[-1.22,1.3],[-1.08,2.9],[-0.97,2.3],[-0.83,2.7],[-0.68,4.1],[-0.6,1.6],[-0.5,0.8],[-0.39,1.1],[-0.3,0.5],[-0.2,1.3],[-0.1,0],[0.44,0],[0.55,1.7],[0.66,2.5],[0.76,1.7],[0.85,2.5],[0.95,3.3],[1.06,1.1],[1.15,0],[1.3,0],[1.35,0.6],[1.42,0],[1.6,0],[1.68,0.6],[1.75,0.3],[1.82,0],[2.62,0],[2.76,1.1],[2.9,2.3],[3.0,0.5],[3.05,0],[3.55,0],[3.65,0.6],[3.77,2.1],[3.85,1.8]];
const cHSE_O_dn = [[-8,0],[-7.83,-0.1],[-7.62,-0.3],[-7.54,-1.0],[-7.4,-0.5],[-7.25,-0.3],[-7.1,-0.4],[-7.03,-1.6],[-6.93,-2.8],[-6.82,-2.9],[-6.67,-1.6],[-6.53,-1.2],[-6.42,-2.8],[-6.31,-8.0],[-6.24,-4.6],[-6.1,-2.9],[-5.95,-3.6],[-5.8,-4.6],[-5.66,-1.5],[-5.51,-3.9],[-5.37,-2.8],[-5.22,-3.6],[-5.08,-2.8],[-4.94,-3.9],[-4.79,-2.4],[-4.65,-3.6],[-4.5,-5.2],[-4.35,-5.4],[-4.2,-3.6],[-4.03,-7.9],[-3.92,-3.6],[-3.77,-2.8],[-3.63,-4.0],[-3.45,-5.6],[-3.34,-4.0],[-3.2,-3.2],[-3.05,-3.6],[-2.9,-2.8],[-2.76,-1.6],[-2.62,-3.6],[-2.54,-7.2],[-2.4,-3.6],[-2.25,-3.0],[-2.15,-3.7],[-2.09,-5.4],[-1.95,-5.6],[-1.8,-6.8],[-1.73,-4.4],[-1.66,-2.6],[-1.51,-1.0],[-1.44,-2.0],[-1.3,-1.2],[-1.15,-0.1],[-1.1,0],[2.0,0],[2.11,-1.0],[2.25,-1.6],[2.4,-0.8],[2.54,-1.8],[2.62,0],[3.2,0],[3.3,-0.5],[3.41,-1.3],[3.55,-1.7],[3.7,-0.9],[3.85,-2.4]];

// Tick values and labels
const xTickVals = [-6, -3, 0, 3];
const xTickText = ['-6', '-3', '0', '3'];
const yTickValsA = [-40, -20, 0, 20, 40];
const yTickTextA = ['-40', '-20', '0', '20', '40'];
const yTickValsBC = [-5, 0, 5];
const yTickTextBC = ['-5', '0', '5'];

// Panel texts
const panelLetters = ['(a)', '(b)', '(c)'];
const methodLabels = ['GGA+U', 'HSE06'];
const yTitles = ['PDOS (states/eV)', 'PDOS (states/eV)', 'PDOS(states/eV)'];
const xTitle = 'Energy (eV)';

// ---------------- LAYOUT / STYLE ----------------
const W = 1260, H = 904;
const LW = 3;               // frame line width
const FONT = 'Liberation Sans, Arial, Helvetica, sans-serif';
const colors = {Ni: '#0000ff', Mn: '#9400d3', Co: '#008c00', O: '#ff0000'};
const px = v => v / W;
const py = v => 1 - v / H;
const h = LW / 2;
// frame line centres: x 152 | 701 | 1250 ; y 22 | 297 | 567 | 838
const colPx = [[152 + h, 701 - h], [701 + h, 1250 - h]];
const rowPx = [[22 + h, 297 - h], [297 + h, 567 - h], [567 + h, 838 - h]];
const colDom = colPx.map(c => [px(c[0]), px(c[1])]);
const rowDom = rowPx.map(r => [py(r[1]), py(r[0])]);
const yRanges = [[-40, 40], [-7.95, 7.95], [-7.9, 8.1]];
const legendPad = '\u00a0'.repeat(3);   // widens the opaque legend box

const panels = [
  {row: 0, col: 0, d: {Ni: [aGGA_Ni_up, aGGA_Ni_dn], Mn: [aGGA_Mn_up, aGGA_Mn_dn], Co: [aGGA_Co_up, aGGA_Co_dn], O: [aGGA_O_up, aGGA_O_dn]}},
  {row: 0, col: 1, d: {Ni: [aHSE_Ni_up, aHSE_Ni_dn], Mn: [aHSE_Mn_up, aHSE_Mn_dn], Co: [aHSE_Co_up, aHSE_Co_dn], O: [aHSE_O_up, aHSE_O_dn]}},
  {row: 1, col: 0, d: {Ni: [bGGA_Ni_up, bGGA_Ni_dn], Mn: [bGGA_Mn_up, bGGA_Mn_dn], Co: [bGGA_Co_up, bGGA_Co_dn], O: [bGGA_O_up, bGGA_O_dn]}},
  {row: 1, col: 1, d: {Ni: [bHSE_Ni_up, bHSE_Ni_dn], Mn: [bHSE_Mn_up, bHSE_Mn_dn], Co: [bHSE_Co_up, bHSE_Co_dn], O: [bHSE_O_up, bHSE_O_dn]}},
  {row: 2, col: 0, d: {Ni: [cGGA_Ni_up, cGGA_Ni_dn], Mn: [cGGA_Mn_up, cGGA_Mn_dn], Co: [cGGA_Co_up, cGGA_Co_dn], O: [cGGA_O_up, cGGA_O_dn]}},
  {row: 2, col: 1, d: {Ni: [cHSE_Ni_up, cHSE_Ni_dn], Mn: [cHSE_Mn_up, cHSE_Mn_dn], Co: [cHSE_Co_up, cHSE_Co_dn], O: [cHSE_O_up, cHSE_O_dn]}}
];

const traces = [];
const layout = {
  width: W, height: H,
  margin: {l: 0, r: 0, t: 0, b: 0},
  paper_bgcolor: '#fff', plot_bgcolor: '#fff',
  font: {family: FONT, color: '#000', weight: 'bold'},
  showlegend: true,
  legend: {
    x: px(180), y: py(167), xanchor: 'left', yanchor: 'top',
    bgcolor: '#fff', borderwidth: 0,
    font: {family: FONT, size: 21, color: '#000', weight: 'bold'},
    itemwidth: 55,
    tracegroupgap: 0, traceorder: 'normal'
  },
  shapes: [], annotations: []
};

panels.forEach((p, i) => {
  const n = i + 1;
  const xa = n === 1 ? 'x' : 'x' + n;
  const ya = n === 1 ? 'y' : 'y' + n;
  const xKey = n === 1 ? 'xaxis' : 'xaxis' + n;
  const yKey = n === 1 ? 'yaxis' : 'yaxis' + n;
  const bottom = p.row === 2;
  const left = p.col === 0;

  layout[xKey] = {
    domain: colDom[p.col], anchor: ya, range: [-8, 4],
    showgrid: false, zeroline: false,
    showline: true, linewidth: LW, linecolor: '#000', mirror: 'allticks',
    ticks: 'inside', ticklen: 14, tickwidth: 2.5, tickcolor: '#000',
    tickmode: 'array', tickvals: xTickVals, ticktext: xTickText,
    showticklabels: bottom, ticklabelstandoff: 4,
    tickfont: {family: FONT, size: 22, color: '#000', weight: 'bold'},
    minor: {tickmode: 'linear', tick0: 0, dtick: 1.5, ticks: 'inside', ticklen: 8, tickwidth: 2.5, tickcolor: '#000', showgrid: false}
  };
  const yr = yRanges[p.row];
  const isA = p.row === 0;
  layout[yKey] = {
    domain: rowDom[p.row], anchor: xa, range: yr,
    showgrid: false, zeroline: false,
    showline: true, linewidth: LW, linecolor: '#000', mirror: 'allticks',
    ticks: 'inside', ticklen: 14, tickwidth: 2.5, tickcolor: '#000',
    tickmode: 'array', tickvals: isA ? yTickValsA : yTickValsBC, ticktext: isA ? yTickTextA : yTickTextBC,
    showticklabels: left, ticklabelstandoff: 8,
    tickfont: {family: FONT, size: 22, color: '#000', weight: 'bold'},
    minor: {tickmode: 'linear', tick0: 0, dtick: isA ? 10 : 2.5, ticks: 'inside', ticklen: 8, tickwidth: 2.5, tickcolor: '#000', showgrid: false}
  };

  species.forEach(sp => {
    p.d[sp].forEach((curve, k) => {
      traces.push({
        x: curve.map(q => q[0]), y: curve.map(q => q[1]),
        xaxis: xa, yaxis: ya, type: 'scatter', mode: 'lines',
        line: {color: colors[sp], width: 3.4},
        name: sp + legendPad, legendgroup: sp,
        showlegend: i === 0 && k === 0,
        hoverinfo: 'skip'
      });
    });
  });

  // dashed Fermi level
  layout.shapes.push({
    type: 'line', xref: xa, yref: ya + ' domain', x0: 0, x1: 0, y0: 0, y1: 1,
    line: {color: '#000', width: 3, dash: '17px,9px'}, layer: 'above'
  });
});

// Text annotations
const letterY = [47, 330, 607];
panelLetters.forEach((t, r) => {
  layout.annotations.push({text: t, xref: 'paper', yref: 'paper', x: px(35), y: py(letterY[r]),
    showarrow: false, xanchor: 'center', yanchor: 'middle',
    font: {family: FONT, size: 30, color: '#000', weight: 'bold'}});
});
const methodPos = [[[635, 64], [1182, 63]], [[628, 335], [1191, 332]], [[630, 606], [1182, 607]]];
methodPos.forEach((row, r) => {
  row.forEach((pos, c) => {
    layout.annotations.push({text: methodLabels[c], xref: 'paper', yref: 'paper', x: px(pos[0]), y: py(pos[1]),
      showarrow: false, xanchor: 'center', yanchor: 'middle',
      font: {family: FONT, size: 25, color: '#000', weight: 'bold'}});
  });
});
const yTitleY = [179, 470, 728];
yTitles.forEach((t, r) => {
  layout.annotations.push({text: t, xref: 'paper', yref: 'paper', x: px(87), y: py(yTitleY[r]),
    showarrow: false, xanchor: 'center', yanchor: 'middle', textangle: -90,
    font: {family: FONT, size: 22, color: '#000', weight: 'bold'}});
});
[427, 975].forEach(xc => {
  layout.annotations.push({text: xTitle, xref: 'paper', yref: 'paper', x: px(xc), y: py(887),
    showarrow: false, xanchor: 'center', yanchor: 'middle',
    font: {family: FONT, size: 23, color: '#000', weight: 'bold'}});
});

Plotly.newPlot('plot', traces, layout, {staticPlot: true, displayModeBar: false});
</script>
</body>
</html>
